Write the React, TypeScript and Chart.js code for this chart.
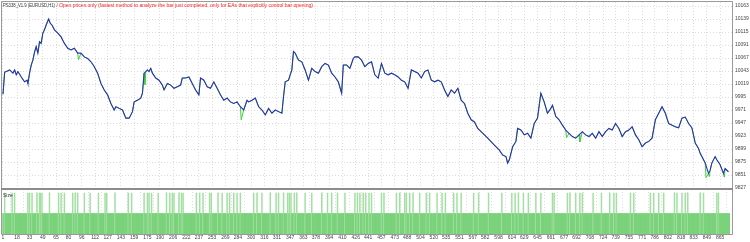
import React, { useEffect, useRef } from "react";
import { Chart, registerables } from "chart.js";

Chart.register(...registerables);

// ---- data ----
const titleExpert = "PS338_V1.9 (EURUSD,H1)";
const titleMode =
  " / Open prices only (fastest method to analyze the bar just completed, only for EAs that explicitly control bar opening)";
const subTitle = "Size";

const balanceTrade = [1,3,5,9,13,15,17,19,23,27,30,31,33,35,37,39,41,43,45,47,49,51,53,56,58,60,63,67,71,73,75,79,83,87,91,95,99,103,107,111,115,119,123,127,131,135,137,141,145,149,153,157,159,163,167,169,171,173,175,177,179,181,185,189,193,195,199,203,207,211,215,217,221,225,229,233,237,239,243,247,251,255,259,263,267,271,275,279,283,287,291,295,297,301,305,309,313,317,321,325,329,333,337,339,341,345,347,349,351,353,357,361,365,369,373,377,381,385,389,393,397,401,405,409,411,415,419,423,425,429,433,437,441,445,449,453,457,461,465,469,473,477,481,485,489,493,497,501,505,509,513,517,521,525,529,533,537,541,545,549,553,557,561,565,569,573,577,581,585,593,599,603,607,609,611,615,619,621,625,629,633,637,641,645,649,653,657,661,663,667,671,675,679,683,687,691,695,699,703,707,711,715,719,723,727,731,735,739,743,747,751,755,759,763,767,771,775,779,783,787,791,795,799,803,807,811,815,819,823,827,831,835,839,841,843,847,851,853,855,859,861,865,869,871,875];
const balanceValue = [10000,10041,10042,10045,10039,10045,10036,10042,10032,10023,10026,10020,10039,10054,10063,10078,10088,10076,10097,10094,10113,10119,10128,10139,10131,10128,10119,10113,10106,10100,10094,10085,10082,10085,10076,10076,10069,10066,10060,10051,10039,10020,10008,9999,9983,9971,9977,9974,9971,9956,9956,9968,9986,9989,9993,10002,10039,10042,10045,10042,10048,10039,10030,10026,10017,10008,10020,10017,10011,10014,10017,10030,10030,10032,10020,10008,9999,10030,10026,10014,10011,10023,10011,9999,9989,9993,9986,9983,9986,9977,9971,9989,9986,9989,9993,9977,9971,9962,9974,9965,9971,9968,9965,9996,10023,10026,10036,10045,10079,10076,10063,10060,10045,10026,10048,10042,10039,10051,10057,10054,10039,10032,10023,10002,10054,10054,10048,10066,10069,10069,10063,10051,10057,10060,10036,10030,10057,10039,10036,10039,10036,10032,10026,10023,10011,10045,10042,10039,10030,10042,10045,10026,10023,10026,10023,10008,9996,10008,10002,10011,9989,9983,9965,9953,9949,9937,9931,9925,9919,9906,9897,9888,9885,9873,9879,9903,9913,9937,9934,9925,9928,9919,9946,9956,10002,9986,9965,9974,9980,9959,9953,9943,9934,9928,9922,9919,9925,9931,9925,9922,9928,9919,9931,9922,9931,9937,9934,9946,9937,9922,9931,9934,9940,9925,9916,9903,9910,9913,9919,9953,9965,9977,9965,9946,9943,9940,9938,9956,9958,9946,9938,9910,9900,9891,9885,9873,9854,9860,9873,9885,9879,9870,9854,9863,9857];

// equity drops below balance (green spikes)
const equityDipTrade = [92, 172, 288, 680, 696, 848, 852, 870];
const equityDipValue = [10064, 10018, 9953, 9920, 9912, 9846, 9848, 9847];

const yTickValues = [9827,9851,9875,9899,9923,9947,9971,9995,10019,10043,10067,10091,10115,10139,10163];
const xTickValues = [1,18,33,49,65,80,96,112,127,143,159,175,190,206,222,237,253,269,284,300,316,331,347,363,378,394,410,426,441,457,473,488,504,520,535,551,567,582,598,614,629,645,661,677,692,708,724,739,755,771,786,802,818,833,849,865];

const tradeCount = 876;
const baseLot = 0.1;
const largeLot = 0.2;
const largeLotTrades = [3,12,15,31,33,36,42,45,46,48,57,68,71,75,85,88,91,99,106,116,124,126,136,152,156,171,175,177,180,188,198,202,205,207,213,216,218,234,238,242,250,252,260,265,271,274,279,283,287,303,307,313,323,330,333,339,344,346,348,352,355,365,373,385,392,397,404,413,425,428,431,435,438,442,445,457,460,475,479,485,487,491,495,503,511,515,524,530,534,544,548,553,568,574,586,602,614,618,622,628,634,643,649,663,665,681,684,691,696,699,712,722,732,737,740,757,761,781,785,791,797,810,813,819,823,826,841,845,861,863];

// ---- look ----
const X_MIN = -0.2;
const X_MAX = 879.3;
const FONT = "'Liberation Sans', Arial, sans-serif";
const GRID = "#dcdcdc";
const FRAME = "#9a9a9a";

export default function App() {
  const mainRef = useRef<HTMLCanvasElement>(null);
  const subRef = useRef<HTMLCanvasElement>(null);

  useEffect(() => {
    const balancePts = balanceTrade.map((t, i) => ({ x: t, y: balanceValue[i] }));
    const eq = balancePts.slice();
    equityDipTrade.forEach((t, i) => eq.push({ x: t, y: equityDipValue[i] }));
    eq.sort((a, b) => a.x - b.x);

    const mainFrame = {
      id: "mainFrame",
      afterDraw(chart: any) {
        const { ctx, chartArea: a } = chart;
        ctx.save();
        ctx.strokeStyle = FRAME;
        ctx.lineWidth = 1;
        ctx.beginPath();
        ctx.moveTo(a.left - 0.5, a.bottom);
        ctx.lineTo(a.left - 0.5, a.top - 0.5);
        ctx.lineTo(a.right + 0.5, a.top - 0.5);
        ctx.lineTo(a.right + 0.5, a.bottom);
        ctx.stroke();
        ctx.fillStyle = "#8c8c8c";
        ctx.fillRect(a.left - 1, a.bottom, a.right - a.left + 2, 2);
        ctx.textBaseline = "top";
        ctx.font = `5px ${FONT}`;
        ctx.fillStyle = "#333";
        ctx.fillText(titleExpert, a.left + 1, a.top + 1, 52);
        ctx.fillStyle = "#ff2020";
        ctx.fillText(titleMode, a.left + 53, a.top + 1, 288);
        ctx.restore();
      },
    };

    const main = new Chart(mainRef.current!, {
      type: "line",
      data: {
        datasets: [
          { data: balancePts, borderColor: "#2e30b8", borderWidth: 1.1, pointRadius: 0, tension: 0 },
          { data: eq, borderColor: "#3fcf3f", borderWidth: 1, pointRadius: 0, tension: 0 },
        ],
      },
      options: {
        animation: false,
        responsive: false,
        maintainAspectRatio: false,
        events: [],
        layout: { padding: { left: 2, top: 2, right: 0, bottom: 2 } },
        plugins: { legend: { display: false }, tooltip: { enabled: false } },
        scales: {
          x: {
            type: "linear",
            min: X_MIN,
            max: X_MAX,
            afterBuildTicks: (s: any) => { s.ticks = xTickValues.map((v) => ({ value: v })); },
            ticks: { display: false },
            grid: { color: GRID, drawTicks: false, lineWidth: 1 },
            border: { display: false, dash: [1, 2] },
            afterFit: (s: any) => { s.height = 0; s.paddingLeft = 0; s.paddingRight = 0; },
          },
          y: {
            position: "right",
            min: 9827,
            max: 10170.4,
            afterBuildTicks: (s: any) => { s.ticks = yTickValues.map((v) => ({ value: v })); },
            ticks: {
              font: { size: 5, family: FONT },
              color: "#444",
              padding: 3,
              autoSkip: false,
              callback: (v: any) => String(v),
            },
            grid: { color: GRID, drawTicks: false, lineWidth: 1 },
            border: { display: false, dash: [1, 2] },
            afterFit: (s: any) => { s.width = 18; s.paddingTop = 0; s.paddingBottom = 0; },
          },
        },
      } as any,
      plugins: [mainFrame],
    });

    const largeSet = new Set(largeLotTrades);
    const lotPts: { x: number; y: number }[] = [];
    const lotColors: string[] = [];
    for (let t = 1; t <= tradeCount; t++) {
      const big = largeSet.has(t);
      lotPts.push({ x: t, y: big ? largeLot : baseLot });
      lotColors.push(big ? "#a2e0a2" : "#7ad27a");
    }

    const subFrame = {
      id: "subFrame",
      afterDraw(chart: any) {
        const { ctx, chartArea: a } = chart;
        ctx.save();
        ctx.strokeStyle = FRAME;
        ctx.lineWidth = 1;
        ctx.beginPath();
        ctx.moveTo(a.left - 0.5, a.top - 2);
        ctx.lineTo(a.left - 0.5, a.bottom + 0.5);
        ctx.lineTo(a.right + 0.5, a.bottom + 0.5);
        ctx.lineTo(a.right + 0.5, a.top - 2);
        ctx.stroke();
        ctx.textBaseline = "top";
        ctx.font = `5px ${FONT}`;
        ctx.fillStyle = "#333";
        ctx.fillText(subTitle, a.left + 1, a.top + 1);
        ctx.restore();
      },
    };

    const sub = new Chart(subRef.current!, {
      type: "bar",
      data: {
        datasets: [
          {
            data: lotPts,
            backgroundColor: lotColors,
            borderWidth: 0,
            barPercentage: 1,
            categoryPercentage: 1,
          },
        ],
      },
      options: {
        animation: false,
        responsive: false,
        maintainAspectRatio: false,
        events: [],
        layout: { padding: { left: 2, top: 2, right: 0, bottom: 0 } },
        plugins: { legend: { display: false }, tooltip: { enabled: false } },
        scales: {
          x: {
            type: "linear",
            min: X_MIN,
            max: X_MAX,
            offset: false,
            afterBuildTicks: (s: any) => { s.ticks = xTickValues.map((v) => ({ value: v })); },
            ticks: {
              font: { size: 5, family: FONT },
              color: "#444",
              padding: 1,
              autoSkip: false,
              maxRotation: 0,
              minRotation: 0,
              callback: (v: any) => String(v),
            },
            grid: { color: GRID, drawTicks: false, lineWidth: 1 },
            border: { display: false, dash: [1, 2] },
            afterFit: (s: any) => { s.height = 8; s.paddingLeft = 0; s.paddingRight = 0; },
          },
          y: {
            position: "right",
            min: 0,
            max: 0.205,
            ticks: { display: false },
            grid: { display: false },
            border: { display: false },
            afterFit: (s: any) => { s.width = 18; s.paddingTop = 0; s.paddingBottom = 0; },
          },
        },
      } as any,
      plugins: [subFrame],
    });

    return () => {
      main.destroy();
      sub.destroy();
    };
  }, []);

  return (
    <div style={{ position: "absolute", left: 0, top: 0, width: 750, height: 242, background: "#fff" }}>
      <canvas ref={mainRef} width={750} height={190} style={{ position: "absolute", left: 0, top: 0, width: 750, height: 190 }} />
      <canvas ref={subRef} width={750} height={52} style={{ position: "absolute", left: 0, top: 190, width: 750, height: 52 }} />
    </div>
  );
}
